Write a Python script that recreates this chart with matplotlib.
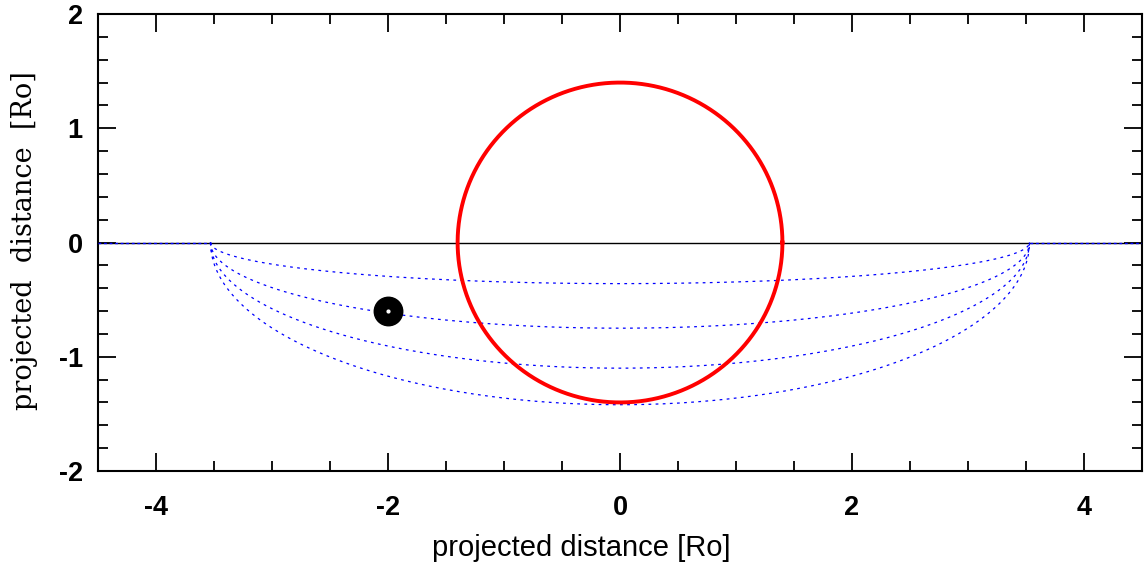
import numpy as np
import matplotlib
matplotlib.use("Agg")
import matplotlib.pyplot as plt
from matplotlib.ticker import MultipleLocator

# Data
star_radius = 1.4
orbit_half_width = 3.53
orbit_depths = [0.36, 0.75, 1.10, 1.42]
planet_x = -2.0
planet_y = -0.60
xlim = (-4.5, 4.5)
ylim = (-2.0, 2.0)
x_ticks = [-4, -2, 0, 2, 4]
y_ticks = [-2, -1, 0, 1, 2]

fig = plt.figure(figsize=(11.45, 5.7), dpi=100)
ax = fig.add_axes([0.0856, 0.1737, 0.9118, 0.8017])

# horizontal line at zero
ax.plot(xlim, [0, 0], color="black", lw=1.0, zorder=2)
ax.plot([xlim[0], -orbit_half_width], [0, 0], color="blue", lw=1.0, ls=(0, (2, 2)), zorder=3)
ax.plot([orbit_half_width, xlim[1]], [0, 0], color="blue", lw=1.0, ls=(0, (2, 2)), zorder=3)

# orbits (lower half-ellipses)
t = np.linspace(np.pi, 2 * np.pi, 400)
for d in orbit_depths:
    ax.plot(orbit_half_width * np.cos(t), d * np.sin(t), color="blue", lw=0.9,
            ls=(0, (2.2, 3.5)), zorder=3)

# star
th = np.linspace(0, 2 * np.pi, 500)
ax.plot(star_radius * np.cos(th), star_radius * np.sin(th), color="red", lw=2.8, zorder=4)

# planet
ax.plot([planet_x], [planet_y], "o", color="black", markersize=20.5, zorder=5)
ax.plot([planet_x], [planet_y], "o", color="white", markersize=2.0, zorder=6)

ax.set_xlim(*xlim)
ax.set_ylim(*ylim)
ax.set_xticks(x_ticks)
ax.set_yticks(y_ticks)
ax.xaxis.set_minor_locator(MultipleLocator(0.5))
ax.yaxis.set_minor_locator(MultipleLocator(0.2))
ax.tick_params(which="both", direction="in", top=True, right=True, width=1.3, colors="black")
ax.tick_params(which="major", length=13, labelsize=19.5)
ax.tick_params(which="minor", length=7)
ax.tick_params(axis="x", which="major", pad=17)
ax.tick_params(axis="y", which="major", pad=11)
ax.set_xticklabels([str(v) for v in x_ticks], fontfamily="Liberation Sans", fontweight="bold", fontsize=19.5)
ax.set_yticklabels([str(v) for v in y_ticks], fontfamily="Liberation Sans", fontweight="bold", fontsize=19.5)
for s in ax.spines.values():
    s.set_linewidth(1.5)

ax.set_xlabel("projected distance [Ro]", fontfamily="Liberation Sans", fontsize=21)
ax.xaxis.set_label_coords(0.4626, -0.138)
ax.set_ylabel("projected  distance  [Ro]", fontfamily="DejaVu Serif", fontsize=19.5,
              fontweight="light")
ax.yaxis.set_label_coords(-0.0575, 0.504)

fig.savefig("out.png", dpi=100)
